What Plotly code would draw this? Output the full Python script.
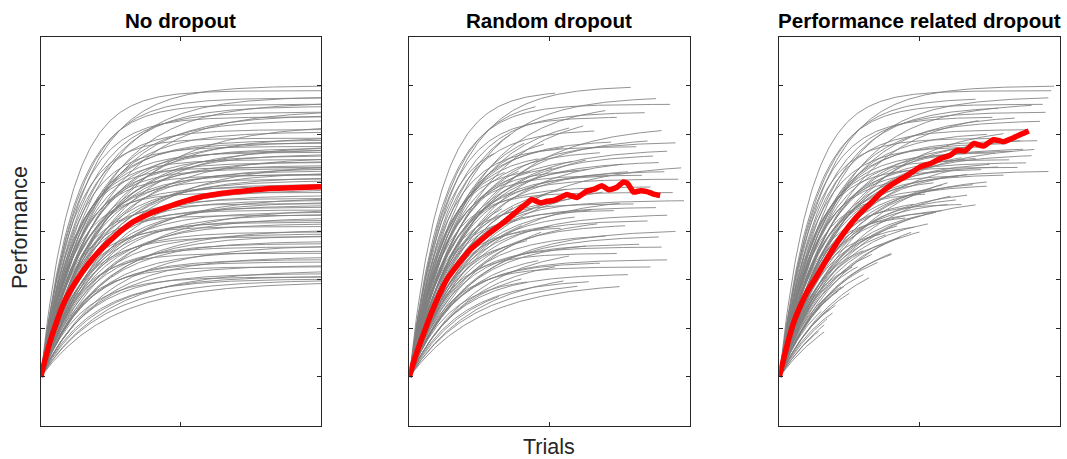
import numpy as np
import plotly.graph_objects as go

W, H = 1067, 459

# ---------------- data ----------------
panel_titles = ["No dropout", "Random dropout", "Performance related dropout"]
x_label = "Trials"
y_label = "Performance"

# per-subject asymptotic performance
asym = [7.00, 6.90, 6.78, 6.75, 6.66, 6.62, 6.58, 6.50, 6.46, 6.40,
        6.36, 6.29, 6.20, 6.10, 6.05, 5.95, 5.92, 5.88, 5.85, 5.82,
        5.78, 5.75, 5.72, 5.70, 5.67, 5.63, 5.60, 5.56, 5.53, 5.48,
        5.45, 5.42, 5.40, 5.36, 5.32, 5.30, 5.29, 5.25, 5.22, 5.18,
        5.16, 5.12, 5.08, 5.05, 5.01, 4.97, 4.92, 4.86, 4.80, 4.74,
        4.70, 4.68, 4.64, 4.61, 4.57, 4.54, 4.50, 4.47, 4.44, 4.40,
        4.36, 4.33, 4.29, 4.23, 4.19, 4.16, 4.10, 4.04, 3.99, 3.95,
        3.92, 3.89, 3.80, 3.75, 3.72, 3.68, 3.60, 3.55, 3.48, 3.42,
        3.37, 3.30, 3.27, 3.20, 3.13, 3.08, 3.06, 3.02, 3.00, 2.96]

# per-subject learning time constant (in % of trials)
tau = [15, 11, 18, 13, 20, 12, 16, 22, 14, 19,
       12, 17, 24, 13, 16, 21, 11, 15, 18, 14,
       23, 12, 17, 20, 15, 13, 19, 16, 22, 12,
       18, 14, 25, 16, 11, 19, 13, 17, 21, 15,
       12, 20, 14, 18, 23, 16, 13, 19, 11, 17,
       22, 14, 16, 20, 12, 18, 15, 24, 13, 17,
       19, 11, 21, 16, 14, 18, 12, 22, 15, 17,
       20, 13, 19, 16, 23, 14, 18, 12, 21, 16,
       15, 19, 13, 24, 17, 20, 14, 18, 22, 25]

# last trial (% of trials) for each subject under random dropout
end_random = [79, 52, 88, 45, 70, 93, 36, 62, 84, 57,
              74, 41, 90, 66, 48, 85, 30, 72, 95, 55,
              63, 81, 39, 92, 68, 46, 87, 58, 76, 34,
              89, 51, 97, 64, 43, 78, 60, 91, 37, 71,
              83, 49, 96, 56, 69, 33, 86, 61, 94, 44,
              75, 53, 98, 40, 80, 65, 88, 47, 73, 59,
              92, 38, 67, 85, 50, 77, 54, 95, 42, 70,
              89, 35, 63, 82, 57, 90, 46, 74, 52, 92,
              68, 40, 86, 55, 78, 32, 42, 64, 60, 75]

# last trial (% of trials) for each subject under performance related dropout
end_perf = [98, 97, 96, 70, 90, 94, 78, 71, 95, 84,
            76, 93, 80, 88, 74, 86, 79, 92, 68, 81,
            91, 73, 87, 65, 83, 77, 90, 70, 62, 82,
            75, 88, 60, 78, 85, 67, 72, 96, 58, 80,
            64, 74, 55, 69, 61, 74, 57, 67, 52, 63,
            70, 48, 60, 55, 65, 50, 58, 47, 56, 42,
            53, 45, 50, 38, 48, 43, 36, 40, 37, 33,
            40, 30, 35, 28, 32, 26, 30, 24, 25, 21,
            23, 18, 22, 16, 20, 17, 15, 19, 14, 16]

# group mean curves (red)
mean_nodrop_x = [0, 3.3, 5.6, 8.7, 12.9, 17.0, 21.2, 27.0, 33.1, 39.0, 45.0, 50.0,
                 56.9, 63.0, 68.8, 75.0, 80.7, 90.0, 100]
mean_nodrop_y = [1.0, 1.72, 2.12, 2.58, 3.00, 3.33, 3.61, 3.93, 4.20, 4.37, 4.50, 4.60,
                 4.71, 4.77, 4.81, 4.85, 4.88, 4.90, 4.92]

mean_random_x = [0, 1.5, 3.0, 5.6, 7.5, 9.8, 13.3, 17.5, 21.7, 27.6, 33.6, 39.5, 42.0, 43.7,
                 46.7, 49.0, 51.5, 54.0, 56.2, 59.8, 63.4, 66.0, 68.7, 71.1, 74.1,
                 76.4, 78.0, 80.0, 82.5, 84.8, 87.1, 89.5]
mean_random_y = [1.0, 1.30, 1.56, 1.97, 2.26, 2.58, 3.00, 3.33, 3.62, 3.92, 4.18, 4.47, 4.58, 4.66,
                 4.59, 4.62, 4.64, 4.70, 4.76, 4.70, 4.83, 4.87, 4.94, 4.86, 4.91,
                 5.02, 4.98, 4.81, 4.84, 4.82, 4.77, 4.74]

mean_perf_x = [0, 1.5, 3.0, 5.0, 7.5, 9.8, 13.4, 17.5, 21.7, 27.6, 33.6, 36.0, 40.0, 45.5,
               50.2, 54.0, 57.4, 61.0, 63.4, 66.3, 69.3, 72.9, 76.4, 80.0, 83.6,
               86.6, 89.0]
mean_perf_y = [1.0, 1.36, 1.70, 2.10, 2.46, 2.74, 3.08, 3.48, 3.86, 4.30, 4.64, 4.78, 4.96, 5.15,
               5.33, 5.40, 5.50, 5.57, 5.67, 5.66, 5.81, 5.76, 5.89, 5.85, 5.93,
               6.01, 6.07]

# ---------------- figure ----------------
FONT = "Liberation Sans, Arial, Helvetica, sans-serif"
GRAY = "#808080"
AXC = "#262626"

px_left = [40.7, 409.3, 779.3]
px_width = 280.3
px_top, px_bottom = 37.3, 425.5

fig = go.Figure()


def gray_trace(ends, xa, ya):
    xs, ys = [], []
    for A, tc, e in zip(asym, tau, ends):
        t = np.linspace(0, e, int(e * 2) + 2)
        yv = 1 + (A - 1) * (1 - np.exp(-t / tc))
        xs.extend(t.tolist() + [None])
        ys.extend(yv.tolist() + [None])
    return go.Scatter(x=xs, y=ys, mode="lines", xaxis=xa, yaxis=ya,
                      line=dict(color=GRAY, width=0.85), hoverinfo="skip",
                      showlegend=False)


ends_list = [[100] * len(asym), end_random, end_perf]
means = [(mean_nodrop_x, mean_nodrop_y, 1.0),
         (mean_random_x, mean_random_y, 0.5),
         (mean_perf_x, mean_perf_y, 0.5)]

for i in range(3):
    xa = "x" if i == 0 else f"x{i+1}"
    ya = "y" if i == 0 else f"y{i+1}"
    fig.add_trace(gray_trace(ends_list[i], xa, ya))
    mx, my, sm = means[i]
    fig.add_trace(go.Scatter(x=mx, y=my, mode="lines", xaxis=xa, yaxis=ya,
                             line=dict(color="#FF0000", width=5.5,
                                       shape="spline", smoothing=sm),
                             showlegend=False))

ax_common = dict(showline=True, mirror="ticks", linecolor=AXC, linewidth=1,
                 ticks="inside", ticklen=4, tickcolor=AXC, tickwidth=1,
                 showticklabels=False, showgrid=False, zeroline=False,
                 fixedrange=True)

ydom = [1 - px_bottom / H, 1 - px_top / H]
layout = dict(width=W, height=H, margin=dict(l=0, r=0, t=0, b=0),
              paper_bgcolor="white", plot_bgcolor="white", showlegend=False,
              font=dict(family=FONT, color=AXC))
for i in range(3):
    xk = "xaxis" if i == 0 else f"xaxis{i+1}"
    yk = "yaxis" if i == 0 else f"yaxis{i+1}"
    xdom = [px_left[i] / W, (px_left[i] + px_width) / W]
    layout[xk] = dict(ax_common, domain=xdom, range=[0, 100],
                      tickvals=[0, 50, 100],
                      anchor="y" if i == 0 else f"y{i+1}")
    layout[yk] = dict(ax_common, domain=ydom, range=[0, 8],
                      tickvals=[0, 1, 2, 3, 4, 5, 6, 7, 8],
                      anchor="x" if i == 0 else f"x{i+1}")
fig.update_layout(**layout)

ann = []
for i in range(3):
    cx = (px_left[i] + px_width / 2) / W
    ann.append(dict(text=f"<b>{panel_titles[i]}</b>", x=cx, y=1 - 20 / H,
                    xref="paper", yref="paper", showarrow=False,
                    xanchor="center", yanchor="middle",
                    font=dict(family=FONT, size=20.6, color="black")))
ann.append(dict(text=x_label, x=(px_left[1] + px_width / 2) / W, y=1 - 447 / H,
                xref="paper", yref="paper", showarrow=False,
                xanchor="center", yanchor="middle",
                font=dict(family=FONT, size=21.5, color=AXC)))
ann.append(dict(text=y_label, x=20 / W, y=1 - 228 / H, textangle=-90,
                xref="paper", yref="paper", showarrow=False,
                xanchor="center", yanchor="middle",
                font=dict(family=FONT, size=21.5, color=AXC)))
fig.update_layout(annotations=ann)

fig.write_html("out.html")
